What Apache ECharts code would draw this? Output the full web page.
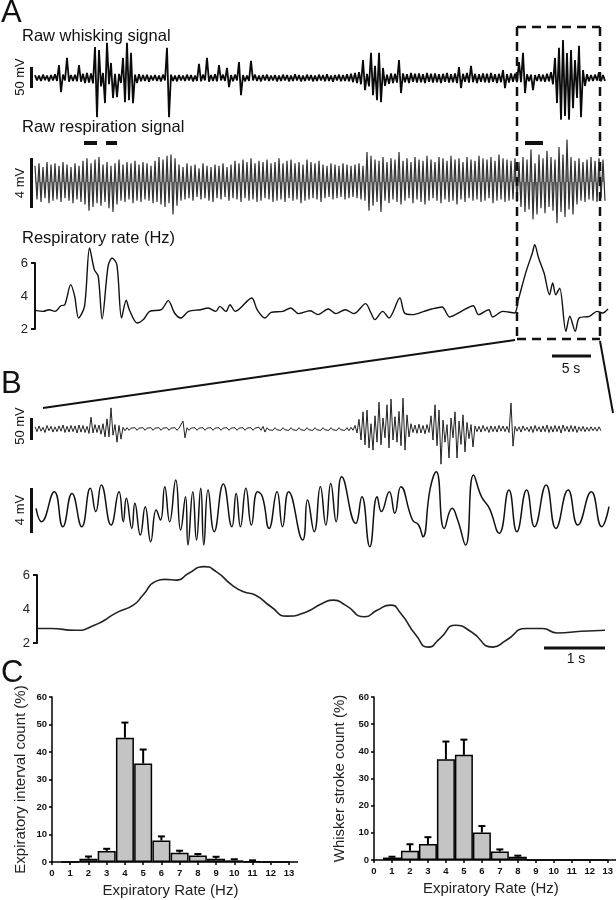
<!DOCTYPE html>
<html>
<head>
<meta charset="utf-8">
<script src="https://cdn.jsdelivr.net/npm/echarts@6/dist/echarts.min.js"></script>
<style>
  html, body { margin: 0; padding: 0; background: #fff; }
  #chart { width: 616px; height: 900px; }
</style>
</head>
<body>
<div id="chart"></div>
<script>
  // A: raw whisking, per-column max / min (mV)
  var whiskAHi = [7,6,8,6,7,9,31,8,48,7, 8,31,10,12,11,74,67,12,84,36, 10,10,48,84,60,8,9,7,8,6,
    7,6,8,72,8,6,7,6,8,7, 6,34,8,48,7,9,31,8,24,7, 8,38,7,6,41,8,6,7,8,6,
    7,6,8,7,6,9,7,6,8,7, 6,8,7,9,6,7,8,7,9,10, 12,14,43,10,60,29,60,24,8,11,
    10,43,11,9,12,10,11,9,12,10, 11,9,10,12,9,11,26,10,12,29, 10,9,11,10,12,9,10,19,9,11,
    10,38,60,9,8,7,9,8,10,14, 48,72,91,60,67,43,77,19,9,7, 8,14,7]
  var whiskALo = [-6,-7,-5,-8,-6,-7,-34,-6,-9,-7, -8,-9,-12,-11,-13,-94,-20,-60,-15,-48, -46,-12,-58,-53,-60,-12,-8,-7,-9,-6,
    -7,-8,-6,-94,-7,-8,-6,-7,-6,-8, -7,-8,-6,-9,-7,-8,-6,-7,-22,-8, -6,-41,-8,-7,-6,-7,-8,-6,-7,-6,
    -8,-7,-6,-8,-7,-6,-8,-7,-6,-8, -7,-6,-8,-7,-9,-6,-8,-7,-8,-10, -12,-15,-29,-20,-41,-53,-58,-19,-14,-12,
    -11,-36,-10,-12,-9,-11,-10,-12,-9,-11, -10,-12,-9,-11,-10,-12,-24,-9,-11,-10, -12,-9,-10,-11,-9,-12,-10,-24,-11,-9,
    -10,-10,-36,-8,-29,-7,-8,-9,-8,-15, -60,-100,-91,-100,-72,-48,-94,-19,-8,-7, -6,-8,-7]

  // A: raw respiration, per-column max / min (mV)
  var respAHi = [1.3,1.5,1.2,1.6,1.4,1.5,1.3,1.6,1.4,1.2, 1.5,1.3,1.7,1.9,1.5,1.8,2.0,1.4,1.6,1.3,
    1.5,1.8,1.4,1.6,1.5,1.7,1.4,1.6,1.5,1.3, 1.7,2.0,1.8,2.1,2.2,1.9,1.4,1.2,1.5,1.3,
    1.4,1.1,1.5,1.3,1.2,1.4,1.3,1.5,1.2,1.4, 1.7,1.5,1.8,1.6,1.9,1.5,1.7,1.6,1.8,1.5,
    1.6,1.9,1.5,1.7,1.8,1.5,1.6,1.4,1.8,1.6, 1.5,1.7,1.4,1.3,1.5,1.4,1.3,1.5,1.4,1.3,
    1.4,1.5,1.3,2.4,2.1,1.8,1.7,2.0,1.6,1.9, 1.8,2.4,1.7,1.9,1.6,2.0,1.8,1.7,2.1,1.8,
    1.6,2.0,1.9,1.7,2.1,1.8,1.9,1.6,2.0,1.8, 1.7,2.1,1.9,1.8,2.0,1.7,2.2,1.9,1.8,1.7,
    1.9,1.6,2.0,1.8,2.6,1.5,2.2,1.9,2.5,2.0, 1.8,2.8,2.2,3.4,2.0,1.7,1.9,1.6,1.8,2.0, 1.7,1.9,1.8]
  var respALo = [-1.4,-1.6,-1.3,-1.7,-1.5,-1.4,-1.6,-1.3,-1.5,-1.7, -1.4,-1.6,-1.8,-2.3,-2.0,-1.7,-1.9,-1.6,-2.1,-2.4,
    -1.8,-1.5,-1.6,-1.4,-1.7,-1.5,-1.6,-1.4,-1.5,-1.7, -1.6,-1.8,-2.0,-1.7,-2.6,-1.9,-1.5,-1.4,-1.3,-1.5,
    -1.2,-1.4,-1.3,-1.5,-1.6,-1.3,-1.4,-1.2,-1.5,-1.3, -1.4,-1.6,-1.3,-1.5,-1.4,-1.6,-1.5,-1.3,-1.4,-1.6,
    -1.5,-1.4,-1.6,-1.3,-1.5,-1.4,-1.7,-1.5,-1.4,-1.3, -1.4,-1.6,-1.3,-1.2,-1.4,-1.3,-1.2,-1.4,-1.3,-1.2,
    -1.3,-1.4,-1.5,-2.3,-1.9,-1.6,-2.4,-1.5,-1.7,-1.4, -1.6,-1.8,-1.5,-1.3,-1.7,-1.4,-1.6,-1.8,-1.5,-1.3,
    -1.5,-1.7,-1.4,-1.6,-1.5,-1.8,-1.4,-1.6,-1.3,-1.5, -1.4,-1.6,-1.5,-1.3,-1.7,-1.5,-1.4,-1.6,-1.5,-1.4,
    -1.6,-2.0,-2.4,-2.2,-3.0,-2.6,-2.1,-2.5,-2.0,-2.3, -3.3,-2.4,-2.8,-2.2,-2.6,-1.8,-1.5,-1.6,-1.4,-1.5, -1.6,-1.3,-1.5]

  // A: respiratory rate (time s, Hz)
  var rateATime = [0.05,1.06,1.81,2.57,3.32,3.83,4.58,5.09,5.59,6.35,7.0,7.61,8.11,8.61,9.37,9.87,10.5,11.1,11.7,12.1,
    13.1,13.9,14.7,16.2,17.1,17.9,18.7,19.7,21.2,22.2,23.2,23.7,24.5,25.0,25.7,27.8,28.5,29.5,30.3,31.8,
    32.8,33.8,35.3,36.3,37.6,38.6,39.8,40.9,42.4,43.1,43.6,44.6,45.4,46.8,47.4,48.4,49.9,50.9,52.2,53.2,
    54.7,56.2,56.9,58.2,58.7,60.0,61.5,62.0,63.0,63.8,64.1,64.6,65.3,66.0,66.4,66.8,67.3,68.1,68.6,69.3,
    69.8,71.1,72.1,72.8,73.5]
  var rateAHz = [3.13,3.07,3.17,3.07,3.41,3.47,4.69,3.98,2.67,3.37,6.91,5.6,5.19,2.61,5.8,6.3,5.9,2.67,3.74,3.17,
    2.36,2.57,3.07,3.17,3.72,2.97,2.67,3.07,3.17,3.27,3.07,3.37,3.07,3.47,3.07,3.88,3.17,2.67,3.01,3.07,
    3.27,2.93,3.11,2.87,3.21,2.93,3.17,2.93,3.54,2.97,2.57,3.07,2.67,3.88,2.97,2.87,3.07,3.21,3.33,2.73,
    3.07,3.41,2.87,3.17,2.73,3.07,2.97,3.78,5.49,6.61,7.11,6.3,5.39,4.08,4.79,4.08,4.48,1.86,2.77,1.86,
    2.67,2.77,3.07,2.97,3.21]

  // B: raw whisking, per-column max / min (mV)
  var whiskBHi = [5,7,4,8,6,5,7,9,6,8, 7,9,8,6,27,10,9,12,23,48, 10,8,4,3,2,3,2,3,2,3,
    2,3,2,3,2,3,2,18,3,2, 3,2,3,2,3,2,3,2,3,2, 3,2,3,2,3,2,4,6,3,2,
    3,2,3,2,3,2,3,2,3,2, 3,2,3,2,3,2,3,2,3,4, 8,22,39,43,12,30,61,25,55,68,
    28,40,70,32,12,9,11,8,10,30, 55,43,20,10,25,39,18,32,15,10, 7,6,8,5,7,6,8,7,6,59,
    6,5,7,4,6,8,5,7,9,6, 8,7,9,6,8,7,5,6,4,5, 4,5]
  var whiskBLo = [-6,-5,-8,-4,-7,-6,-5,-8,-7,-6, -9,-7,-8,-10,-9,-8,-12,-18,-18,-14, -30,-23,-4,-3,-2,-3,-2,-3,-2,-3,
    -2,-3,-2,-3,-2,-3,-2,-20,-3,-2, -3,-2,-3,-2,-3,-2,-3,-2,-3,-2, -3,-2,-3,-2,-3,-2,-3,-7,-2,-3,
    -2,-3,-2,-3,-2,-3,-2,-3,-2,-3, -2,-3,-2,-3,-2,-3,-2,-3,-4,-3, -9,-25,-36,-43,-48,-30,-36,-20,-43,-25,
    -30,-38,-48,-18,-8,-10,-9,-11,-8,-25, -38,-80,-30,-66,-20,-66,-35,-52,-22,-41, -6,-7,-5,-8,-6,-7,-5,-6,-8,-39,
    -5,-7,-4,-6,-8,-5,-7,-6,-8,-7, -6,-9,-5,-7,-6,-8,-5,-6,-5,-4, -5,-4]

  // B: raw respiration turning points (time s, mV)
  var respBTime = [0.00,0.09,0.30,0.44,0.59,0.75,0.89,0.98,1.07,1.23,1.36,1.43,1.48,1.57,1.62,1.71,1.79,1.88,1.97,2.04,
    2.11,2.19,2.29,2.37,2.45,2.49,2.57,2.63,2.70,2.75,2.82,2.92,3.07,3.21,3.28,3.35,3.44,3.53,3.63,3.71,
    3.82,3.95,4.04,4.14,4.37,4.45,4.56,4.66,4.75,4.83,4.92,5.01,5.24,5.34,5.47,5.59,5.66,5.79,5.88,5.98,
    6.17,6.27,6.34,6.46,6.56,6.69,6.82,6.91,7.04,7.17,7.30,7.43,7.59,7.75,7.88,8.04,8.17,8.36,8.52,8.72,
    8.88,9.10,9.27,9.39]
  var respBmV = [-0.12,-1.30,1.36,-1.75,1.21,-1.75,1.66,-0.41,1.96,-1.60,1.36,-1.30,0.77,-1.90,0.33,-2.49,0.03,-3.08,-0.27,-1.16,
    1.81,-1.30,2.40,-2.04,0.92,-3.38,1.36,-2.93,1.66,-3.38,1.51,-2.19,2.04,-1.75,1.21,-1.75,1.66,-1.60,1.36,0.92,
    -1.90,1.36,-1.75,1.36,-2.93,0.62,-2.19,1.81,-1.60,2.10,-1.30,2.69,-1.45,0.92,-3.53,0.92,-0.41,1.36,-0.56,1.81,
    -1.16,-1.60,-2.64,1.66,3.14,-1.90,-0.12,-1.16,-3.38,2.84,0.92,-0.12,-2.34,1.51,-2.19,1.51,-1.75,1.96,-1.90,1.51,
    -1.60,1.36,-1.75,0.03]

  // B: respiratory rate (time s, Hz)
  var rateBTime = [0.0,0.23,0.62,0.94,1.33,1.58,1.74,1.94,2.1,2.29,2.49,2.74,2.94,3.2,3.39,3.58,3.84,4.1,4.42,4.68,
    4.87,5.06,5.38,5.58,5.8,5.97,6.22,6.42,6.61,6.87,7.13,7.48,7.7,8.03,8.29,8.54,8.93,9.32]
  var rateBHz = [2.85,2.85,2.75,3.04,3.83,4.23,4.82,5.61,5.74,5.7,6.1,6.49,6.2,5.41,5.01,4.82,4.13,3.58,3.83,4.33,
    4.52,4.23,3.54,3.93,4.23,3.73,2.45,1.76,2.26,3.04,2.65,1.76,2.16,2.85,2.85,2.59,2.69,2.75]

  // C: histograms
  var rateBins = [1,2,3,4,5,6,7,8,9,10,11,12,13]
  var expCount = [0,1.2,4.0,45.2,35.8,7.8,3.4,2.4,1.2,0.6,0.2,0,0]
  var expErr = [0,0.8,0.8,5.5,5.1,1.5,0.7,0.5,0.7,0.4,0.4,0,0]
  var whiskCount = [0.9,3.4,5.9,37.1,38.7,10.1,3.1,1.2,0,0,0,0,0]
  var whiskErr = [0.3,2.4,2.5,6.5,5.6,2.4,0.8,0.4,0,0,0,0,0]

  var FONT = '"Liberation Sans", Arial, sans-serif'

  function zigzag(hi, lo) {
    var out = []
    for (var i = 0; i < hi.length; i++) {
      out.push([i, hi[i]])
      out.push([i + 0.5, lo[i]])
    }
    return out
  }
  function pairs(xs, ys) {
    return xs.map(function (x, i) { return [x, ys[i]] })
  }
  function hiddenX(idx, min, max) {
    return { gridIndex: idx, type: 'value', min: min, max: max, show: false }
  }
  function hiddenY(idx, min, max) {
    return { gridIndex: idx, type: 'value', min: min, max: max, show: false }
  }
  function rateY(idx) {
    return {
      gridIndex: idx, type: 'value', min: 2, max: 6, interval: 2,
      splitLine: { show: false },
      axisLine: { show: true, lineStyle: { color: '#111', width: 2 } },
      axisTick: { show: true, customValues: [2, 6], length: 4, lineStyle: { color: '#111', width: 2 } },
      axisLabel: { customValues: [2, 4, 6], margin: 7, fontSize: 13, color: '#222', fontFamily: FONT }
    }
  }
  function histX(idx) {
    return {
      gridIndex: idx, type: 'value', min: 0, max: 13, interval: 1,
      name: 'Expiratory Rate (Hz)', nameLocation: 'middle', nameGap: 21,
      nameTextStyle: { fontSize: 15, color: '#222', fontFamily: FONT },
      splitLine: { show: false },
      axisLine: { lineStyle: { color: '#000', width: 1.5 } },
      axisTick: { length: 3, lineStyle: { color: '#000', width: 1.5 } },
      axisLabel: { fontSize: 9.5, fontWeight: 'bold', color: '#111', margin: 6, fontFamily: FONT }
    }
  }
  function histY(idx, name, gap) {
    return {
      gridIndex: idx, type: 'value', min: 0, max: 60, interval: 10,
      name: name, nameLocation: 'middle', nameGap: gap,
      nameTextStyle: { fontSize: 15, color: '#222', fontFamily: FONT },
      splitLine: { show: false },
      axisLine: { show: true, lineStyle: { color: '#000', width: 1.5 } },
      axisTick: { show: true, length: 3, lineStyle: { color: '#000', width: 1.5 } },
      axisLabel: { fontSize: 9.5, fontWeight: 'bold', color: '#111', margin: 5, fontFamily: FONT }
    }
  }
  function errBar(params, api) {
    var x = api.value(0), top = api.value(1), err = api.value(2)
    if (err <= 0) return
    var p0 = api.coord([x, top])
    var p1 = api.coord([x, top + err])
    return {
      type: 'group',
      children: [
        { type: 'line', shape: { x1: p0[0], y1: p0[1], x2: p1[0], y2: p1[1] }, style: { stroke: '#000', lineWidth: 2 } },
        { type: 'line', shape: { x1: p1[0] - 3.5, y1: p1[1], x2: p1[0] + 3.5, y2: p1[1] }, style: { stroke: '#000', lineWidth: 2 } }
      ]
    }
  }

  function label(text, x, y, size, extra) {
    var el = {
      type: 'text', x: x, y: y, z: 10,
      style: { text: text, fontSize: size, fontFamily: FONT, fill: '#111', verticalAlign: 'middle' }
    }
    if (extra) for (var k in extra) el.style[k] = extra[k]
    return el
  }
  function vlabel(text, x, y) {
    return {
      type: 'text', x: x, y: y, rotation: Math.PI / 2, z: 10,
      style: { text: text, fontSize: 13, fontFamily: FONT, fill: '#111', align: 'center', verticalAlign: 'middle' }
    }
  }
  function seg(x1, y1, x2, y2, w, dash) {
    return {
      type: 'line', z: 10,
      shape: { x1: x1, y1: y1, x2: x2, y2: y2 },
      style: { stroke: '#111', lineWidth: w, lineDash: dash || null }
    }
  }

  var chart = echarts.init(document.getElementById('chart'), null, { renderer: 'canvas' })
  chart.setOption({
    backgroundColor: '#fff',
    animation: false,
    grid: [
      { left: 35, right: 11, top: 32, height: 92 },
      { left: 35, right: 11, top: 132, height: 100 },
      { left: 35, right: 8, top: 263, height: 66 },
      { left: 35, right: 15, top: 385, height: 88 },
      { left: 36, right: 7, top: 462, height: 90 },
      { left: 37, right: 11, top: 575, height: 68 },
      { left: 52, width: 237, top: 697, height: 165 },
      { left: 374, width: 236, top: 697, height: 163 }
    ],
    xAxis: [
      hiddenX(0, 0, 142.5),
      hiddenX(1, 0, 142.5),
      hiddenX(2, 0, 73.5),
      hiddenX(3, 0, 141.5),
      hiddenX(4, 0, 9.39),
      hiddenX(5, 0, 9.32),
      histX(6),
      histX(7)
    ],
    yAxis: [
      hiddenY(0, -110, 110),
      hiddenY(1, -4, 4),
      rateY(2),
      hiddenY(3, -100, 100),
      hiddenY(4, -4, 4),
      rateY(5),
      histY(6, 'Expiratory interval count (%)', 24),
      histY(7, 'Whisker stroke count (%)', 27)
    ],
    series: [
      { type: 'line', xAxisIndex: 0, yAxisIndex: 0, data: zigzag(whiskAHi, whiskALo), showSymbol: false,
        lineStyle: { color: '#0a0a0a', width: 1.8 }, clip: false },
      { type: 'line', xAxisIndex: 1, yAxisIndex: 1, data: zigzag(respAHi, respALo), showSymbol: false,
        lineStyle: { color: '#333', width: 1.2 }, areaStyle: { color: '#8c8c8c', opacity: 1, origin: 0 }, clip: false },
      { type: 'line', xAxisIndex: 2, yAxisIndex: 2, data: pairs(rateATime, rateAHz), showSymbol: false, smooth: 0.3,
        lineStyle: { color: '#111', width: 1.4 }, clip: false },
      { type: 'line', xAxisIndex: 3, yAxisIndex: 3, data: zigzag(whiskBHi, whiskBLo), showSymbol: false,
        lineStyle: { color: '#222', width: 1 }, clip: false },
      { type: 'line', xAxisIndex: 4, yAxisIndex: 4, data: pairs(respBTime, respBmV), showSymbol: false, smooth: 0.5,
        lineStyle: { color: '#111', width: 1.5 }, clip: false },
      { type: 'line', xAxisIndex: 5, yAxisIndex: 5, data: pairs(rateBTime, rateBHz), showSymbol: false, smooth: 0.6,
        lineStyle: { color: '#222', width: 1.6 }, clip: false },
      { type: 'bar', xAxisIndex: 6, yAxisIndex: 6, data: pairs(rateBins, expCount), barWidth: 18,
        itemStyle: { color: '#c4c4c4', borderColor: '#000', borderWidth: 1.5 } },
      { type: 'custom', xAxisIndex: 6, yAxisIndex: 6, renderItem: errBar, z: 5,
        data: rateBins.map(function (r, i) { return [r, expCount[i], expErr[i]] }) },
      { type: 'bar', xAxisIndex: 7, yAxisIndex: 7, data: pairs(rateBins, whiskCount), barWidth: 18,
        itemStyle: { color: '#c4c4c4', borderColor: '#000', borderWidth: 1.5 } },
      { type: 'custom', xAxisIndex: 7, yAxisIndex: 7, renderItem: errBar, z: 5,
        data: rateBins.map(function (r, i) { return [r, whiskCount[i], whiskErr[i]] }) }
    ],
    graphic: [
      label('A', 1, 13, 31),
      label('B', 1, 384, 31),
      label('C', 1, 673, 31),
      label('Raw whisking signal', 22, 36, 16.5),
      label('Raw respiration signal', 22, 127, 16.5),
      label('Respiratory rate (Hz)', 22, 238, 16.5),
      vlabel('50 mV', 20, 77),
      vlabel('4 mV', 20, 183),
      vlabel('50 mV', 20, 426),
      vlabel('4 mV', 20, 510),
      seg(31.5, 67, 31.5, 88, 3),
      seg(31.5, 158, 31.5, 208, 3),
      seg(31.5, 418, 31.5, 440, 3),
      seg(31.5, 488, 31.5, 533, 3),
      seg(84, 143, 97, 143, 4),
      seg(106, 143, 117, 143, 4),
      seg(525, 143, 543, 143, 4),
      // zoom box and connectors
      seg(517, 27, 600, 27, 2.5, [9, 6]),
      seg(517, 27, 517, 339, 2.5, [9, 6]),
      seg(600, 27, 600, 339, 2.5, [9, 6]),
      seg(517, 339, 600, 339, 2.5, [9, 6]),
      seg(515, 340, 43, 408, 2),
      seg(600, 341, 613, 413, 2),
      // time scale bars
      seg(552, 356, 591, 356, 3),
      label('5 s', 571, 369, 14, { align: 'center' }),
      seg(544, 648, 605, 648, 3),
      label('1 s', 576, 659, 14, { align: 'center' })
    ]
  })
</script>
</body>
</html>
